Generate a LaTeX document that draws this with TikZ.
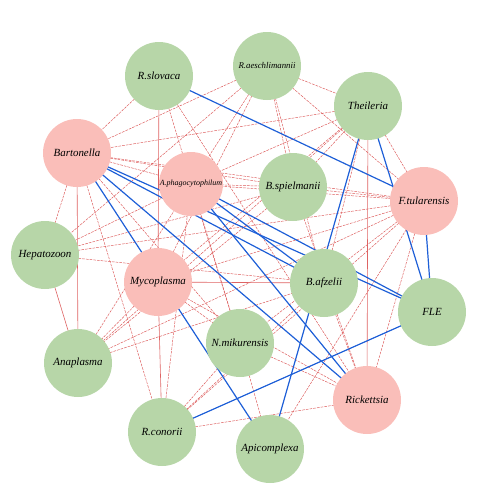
\documentclass[tikz,border=0pt]{standalone}
\usepackage{fontspec}
\setmainfont{Liberation Serif}
\usetikzlibrary{backgrounds}
\definecolor{ngreen}{RGB}{183,214,168}
\definecolor{npink}{RGB}{250,190,185}
\definecolor{eblue}{RGB}{30,95,215}
\definecolor{ered}{RGB}{214,60,60}
\tikzset{
  gn/.style={circle,fill=ngreen,minimum size=51pt,inner sep=0pt,font=\fontsize{8.2}{9}\selectfont\itshape},
  pn/.style={circle,fill=npink,minimum size=51pt,inner sep=0pt,font=\fontsize{8.2}{9}\selectfont\itshape},
  be/.style={draw=eblue,line width=0.9pt},
  rd/.style={draw=ered!85,line width=0.35pt,dash pattern=on 2pt off 0.8pt},
  rs/.style={draw=ered!80,line width=0.45pt},
}
\begin{document}
\begin{tikzpicture}[x=0.75pt,y=-0.75pt]
\useasboundingbox (0,0) rectangle (480,500);
\node[gn] (slov) at (159,76) {R.slovaca};
\node[gn,font=\fontsize{6.6}{7}\selectfont\itshape] (aesch) at (267,66) {R.aeschlimannii};
\node[gn] (theil) at (368,106) {Theileria};
\node[pn] (bart) at (77,153) {Bartonella};
\node[pn,minimum size=48pt,font=\fontsize{6}{7}\selectfont\itshape] (aph) at (191,184) {A.phagocytophilum};
\node[gn] (bspi) at (293,187) {B.spielmanii};
\node[pn] (ftul) at (424,201) {F.tularensis};
\node[gn] (hep) at (45,255) {Hepatozoon};
\node[pn] (myco) at (158,282) {Mycoplasma};
\node[gn] (bafz) at (324,283) {B.afzelii};
\node[gn] (fle) at (432,312) {FLE};
\node[gn] (nmik) at (240,343) {N.mikurensis};
\node[gn] (anap) at (78,363) {Anaplasma};
\node[pn] (rick) at (367,400) {Rickettsia};
\node[gn] (rcon) at (162,432) {R.conorii};
\node[gn] (apic) at (270,449) {Apicomplexa};
\begin{scope}[on background layer]
% red dashed edges
\foreach \a/\b in {slov/bart,slov/nmik,slov/rick,aesch/bart,aesch/aph,aesch/theil,aesch/bspi,aesch/ftul,aesch/myco,aesch/hep,aesch/bafz,
  theil/bart,theil/aph,theil/myco,theil/ftul,theil/bspi,theil/anap,bart/ftul,bart/bspi,bart/aph,bart/hep,bart/rcon,bart/nmik,
  aph/bspi,aph/ftul,aph/hep,aph/anap,aph/rcon,aph/nmik,bspi/ftul,bspi/rick,bspi/anap,bspi/hep,
  ftul/myco,ftul/nmik,ftul/rcon,ftul/rick,ftul/hep,ftul/anap,ftul/apic,hep/bafz,myco/anap,myco/nmik,myco/rick,
  anap/bafz,rcon/nmik,rcon/bafz,rcon/rick,nmik/apic,nmik/rick,bafz/rick,bafz/theil}
  \draw[rd] (\a.center) -- (\b.center);
% red thin solid edges
\foreach \a/\b in {slov/myco,theil/rick,bart/anap,hep/anap,myco/rcon,myco/bafz}
  \draw[rs] (\a.center) -- (\b.center);
% blue edges
\foreach \a/\b in {slov/ftul,bart/fle,bart/bafz,bart/rick,bart/apic,aph/fle,aph/rick,aph/bafz,theil/apic,theil/fle,ftul/fle,fle/rcon}
  \draw[be] (\a.center) -- (\b.center);
\end{scope}
\end{tikzpicture}
\end{document}
